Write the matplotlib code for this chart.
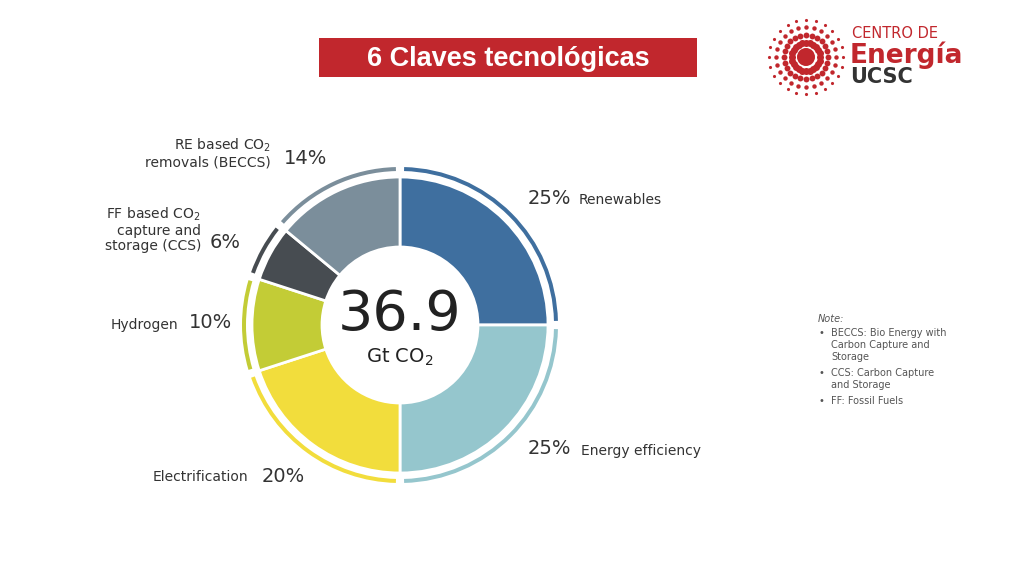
import numpy as np
import matplotlib
matplotlib.use("Agg")
import matplotlib.pyplot as plt
from matplotlib.patches import Wedge, Rectangle, Circle

labels = ["Renewables", "Energy efficiency", "Electrification", "Hydrogen",
          "FF based CO$_2$\ncapture and\nstorage (CCS)", "RE based CO$_2$\nremovals (BECCS)"]
shares = [25, 25, 20, 10, 6, 14]
colors = ["#3f6f9f", "#95c6cd", "#f2dd3c", "#c3cc36", "#474c51", "#7b8e9b"]

H = 576
cx, cy = 400, H - 325
r_out, r_in, r_ring = 148, 78, 158

fig = plt.figure(figsize=(10.24, 5.76), dpi=100)
ax = fig.add_axes([0, 0, 1, 1])
ax.set_xlim(0, 1024)
ax.set_ylim(0, H)
ax.set_aspect("equal")
ax.axis("off")

# donut, clockwise from top
start = 90
for s, c in zip(shares, colors):
    theta2 = start
    theta1 = start - s * 3.6
    ax.add_patch(Wedge((cx, cy), r_out, theta1, theta2, width=r_out - r_in,
                       facecolor=c, edgecolor="white", linewidth=2))
    ax.add_patch(Wedge((cx, cy), r_ring, theta1 + 1.5, theta2 - 1.5, width=4,
                       facecolor=c, edgecolor="none"))
    start = theta1
ax.add_patch(Circle((cx, cy), r_in, facecolor="white", edgecolor="none"))

ax.text(cx, cy + 10, "36.9", ha="center", va="center", fontsize=40, color="#222222")
ax.text(cx, cy - 32, "Gt CO$_2$", ha="center", va="center", fontsize=14, color="#222222")

# labels
lab_kw = dict(fontsize=10, color="#333333")
pct_kw = dict(fontsize=14, color="#333333")
ax.text(528, H - 199, "25%", ha="left", va="center", **pct_kw)
ax.text(579, H - 200, "Renewables", ha="left", va="center", **lab_kw)
ax.text(528, H - 448, "25%", ha="left", va="center", **pct_kw)
ax.text(581, H - 451, "Energy efficiency", ha="left", va="center", **lab_kw)
ax.text(248, H - 477, "Electrification", ha="right", va="center", **lab_kw)
ax.text(262, H - 476, "20%", ha="left", va="center", **pct_kw)
ax.text(178, H - 325, "Hydrogen", ha="right", va="center", **lab_kw)
ax.text(189, H - 323, "10%", ha="left", va="center", **pct_kw)
ax.text(201, H - 229, labels[4], ha="right", va="center", linespacing=1.1, **lab_kw)
ax.text(210, H - 243, "6%", ha="left", va="center", **pct_kw)
ax.text(271, H - 153, labels[5], ha="right", va="center", linespacing=1.1, **lab_kw)
ax.text(284, H - 158, "14%", ha="left", va="center", **pct_kw)

# title box
ax.add_patch(Rectangle((319, H - 77), 378, 39, facecolor="#c1272d", edgecolor="none"))
ax.text(508, H - 59, "6 Claves tecnológicas", ha="center", va="center",
        fontsize=19.5, fontweight="bold", color="white", family="Liberation Sans")

# logo
lx, ly = 806, H - 57
for k in range(24):
    a = np.deg2rad(k * 15)
    for rr, sz in [(14, 10), (22, 7), (30, 4), (37, 2)]:
        ax.plot(lx + rr * np.cos(a), ly + rr * np.sin(a), "o", color="#c1272d",
                markersize=sz ** 0.5 * 1.6, markeredgewidth=0)
ax.add_patch(Circle((lx, ly), 9, facecolor="#c1272d"))
ax.text(852, H - 33, "CENTRO DE", ha="left", va="center", fontsize=10.5, color="#c1272d")
ax.text(850, H - 55, "Energía", ha="left", va="center", fontsize=19, fontweight="bold", color="#c1272d")
ax.text(850, H - 77, "UCSC", ha="left", va="center", fontsize=15, fontweight="bold", color="#333333")

# note
ax.text(818, H - 319, "Note:", ha="left", va="center", fontsize=7, style="italic", color="#555555")
notes = ["BECCS: Bio Energy with\nCarbon Capture and\nStorage",
         "CCS: Carbon Capture\nand Storage", "FF: Fossil Fuels"]
y = H - 328
for n in notes:
    ax.text(818, y, "•", ha="left", va="top", fontsize=7, color="#555555")
    ax.text(831, y, n, ha="left", va="top", fontsize=7, color="#555555", linespacing=1.25)
    y -= 13.5 * (n.count("\n") + 1)

fig.savefig("out.png", dpi=100, facecolor="white")
